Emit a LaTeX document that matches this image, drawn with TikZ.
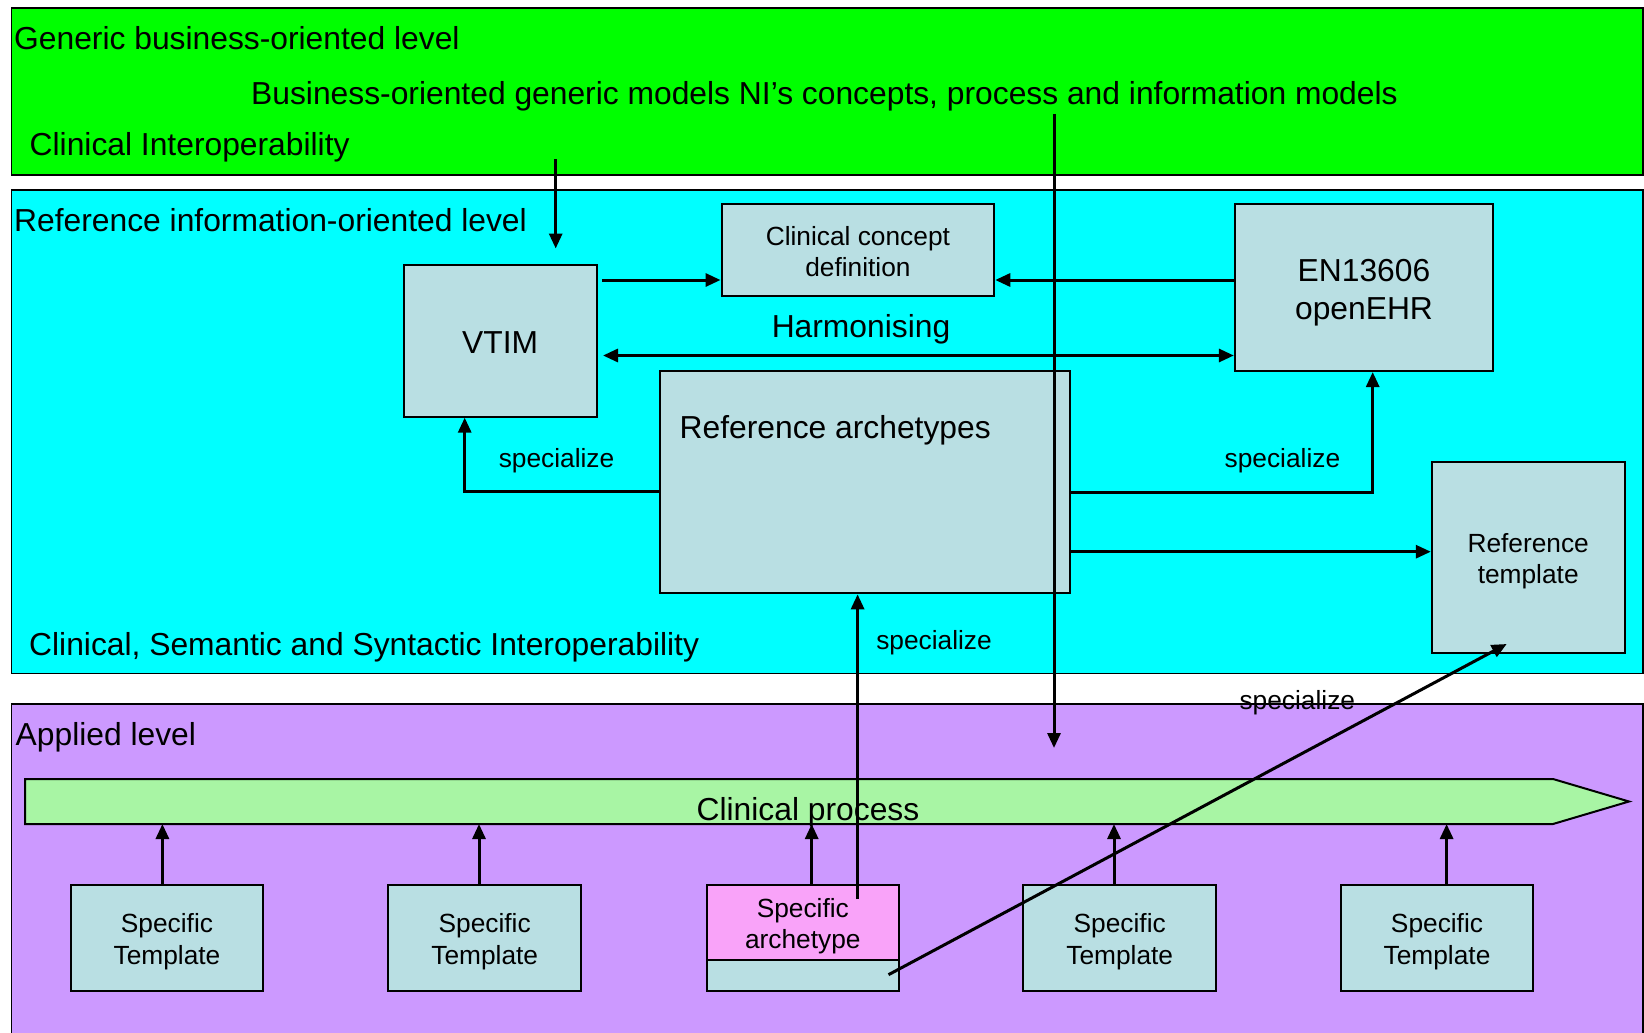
\documentclass[tikz,border=0pt]{standalone}
\usepackage{fontspec}
\setmainfont{Liberation Sans}
\usetikzlibrary{arrows.meta,calc}
\definecolor{bandgreen}{HTML}{00FF00}
\definecolor{bandcyan}{HTML}{00FFFF}
\definecolor{bandpurple}{HTML}{CC99FF}
\definecolor{boxc}{HTML}{B9DFE3}
\definecolor{procc}{HTML}{A8F5A4}
\definecolor{pinkc}{HTML}{F9A3F9}
\newcommand\BigF{\fontsize{31.8}{37.7}\selectfont}
\newcommand\SmallF{\fontsize{26.3}{31.5}\selectfont}
\tikzset{
  band/.style={draw, line width=1.6pt, inner sep=0pt, anchor=north west},
  lvl/.style={font=\BigF, anchor=base west, inner sep=0pt},
  lbl/.style={font=\SmallF, anchor=base, inner sep=0pt},
  box/.style={draw, line width=2pt, fill=boxc, inner sep=0pt},
  btxt/.style={font=\BigF, align=center, inner sep=0pt, yshift=-#1},
  stxt/.style={font=\SmallF, align=center, inner sep=0pt, yshift=-#1},
  arr/.style={line width=3pt, -{Triangle[length=15pt,width=13pt]}},
  dblarr/.style={line width=3pt, {Triangle[length=15pt,width=13pt]}-{Triangle[length=15pt,width=13pt]}},
}
\begin{document}
\begin{tikzpicture}[x=1pt,y=-1pt]
\clip (0,0) rectangle (1644,1033);
\useasboundingbox (0,0) rectangle (1644,1033);
% bands
\node[band, fill=bandgreen, minimum width=1631.5pt, minimum height=166.5pt] (gband) at (10.5,7.5) {};
\node[band, fill=bandcyan, minimum width=1631.5pt, minimum height=483.7pt] (cband) at (10.5,189) {};
\node[band, fill=bandpurple, minimum width=1631.5pt, minimum height=345pt] (pband) at (10.5,703) {};
% level labels
\node[lvl] (t1) at (14,50) {Generic business-oriented level};
\node[lvl] (t2) at (251,104) {Business-oriented generic models NI’s concepts, process and information models};
\node[lvl] (t3) at (29.5,155.5) {Clinical Interoperability};
\node[lvl] (t4) at (14,231.5) {Reference information-oriented level};
\node[lvl] (t5) at (29,655) {Clinical, Semantic and Syntactic Interoperability};
\node[lvl] (t6) at (15.5,745.3) {Applied level};
% reference level boxes
\node[box, minimum width=192.8pt, minimum height=151.7pt, label={[btxt=2pt]center:VTIM}] (vtim) at (500.1,340.8) {};
\node[box, minimum width=272.7pt, minimum height=91.7pt, label={[stxt=1.5pt]center:Clinical concept\\definition}] (ccd) at (857.9,250.2) {};
\node[box, minimum width=258.3pt, minimum height=166.7pt, label={[btxt=5pt]center:EN13606\\openEHR}] (en) at (1364,287.7) {};
\node[box, minimum width=409.4pt, minimum height=222.6pt] (ra) at (865,482) {};
\node[lvl] (ratext) at (679.5,438) {Reference archetypes};
\node[box, minimum width=192.8pt, minimum height=191.6pt, label={[stxt=3.5pt]center:Reference\\template}] (rt) at (1528.2,557.5) {};
\node[lvl, anchor=base] (harm) at (861,337) {Harmonising};
% clinical process
\draw[line width=2pt, fill=procc] (25,779) -- (1553,779) -- (1629,801.5) -- (1553,824) -- (25,824) -- cycle;
\coordinate (cpb) at (25,824);
\node[lvl, anchor=base] (cp) at (808,820) {Clinical process};
% applied level boxes
\node[box, minimum width=192.5pt, minimum height=106.3pt, label={[stxt=4pt]center:Specific\\Template}] (st1) at (167,937.9) {};
\node[box, minimum width=192.5pt, minimum height=106.3pt, label={[stxt=4pt]center:Specific\\Template}] (st2) at (484.7,937.9) {};
\node[box, minimum width=192.5pt, minimum height=106.3pt] (sa) at (802.8,937.9) {};
\node[box, fill=pinkc, minimum width=192.5pt, minimum height=75.3pt, label={[stxt=4pt]center:Specific\\archetype}] (sat) at (802.8,922.4) {};
\node[box, minimum width=192.5pt, minimum height=106.3pt, label={[stxt=4pt]center:Specific\\Template}] (st4) at (1119.7,937.9) {};
\node[box, minimum width=192.5pt, minimum height=106.3pt, label={[stxt=4pt]center:Specific\\Template}] (st5) at (1437,937.9) {};
% specialize labels
\node[lbl] (sp1) at (556.5,467.7) {specialize};
\node[lbl] (sp2) at (1282.4,467.7) {specialize};
\node[lbl] (sp3) at (934,649.3) {specialize};
\node[lbl] (sp4) at (1297.3,709.3) {specialize};
% free-end coordinates
\coordinate (gtop1) at (555.7,159);
\coordinate (vtimin) at (555.7,248.5);
\coordinate (gtop2) at (1054,114);
\coordinate (applin) at (1054,748);
\coordinate (sain) at (857.6,899);
\coordinate (sadiag) at (888.5,974.7);
\coordinate (rttip) at (1506.7,644);
% connectors
\draw[arr] (gtop1) -- (vtimin);
\draw[arr] ([xshift=4.5pt]vtim.east |- 0,280) -- (ccd.west |- 0,280);
\draw[arr] (en.west |- 0,280) -- (ccd.east |- 0,280);
\draw[dblarr] ([xshift=5.5pt]vtim.east |- 0,355.5) -- (en.west |- 0,355.5);
\draw[arr] (ra.west |- 0,491.5) -| ([xshift=-35.4pt]vtim.south);
\draw[arr] (ra.east |- 0,492.5) -| ([xshift=8.7pt]en.south);
\draw[arr] (ra.east |- 0,551.7) -- (rt.west |- 0,551.7);
\draw[arr] (gtop2) -- (applin);
\draw[arr] (sain) -- (sain |- ra.south);
\draw[arr] (sadiag) -- (rttip);
\draw[arr] ([xshift=-4.6pt]st1.north) -- ([xshift=-4.6pt]st1.north |- cpb);
\draw[arr] ([xshift=-5.7pt]st2.north) -- ([xshift=-5.7pt]st2.north |- cpb);
\draw[arr] ([xshift=8.9pt]sat.north) -- ([xshift=8.9pt]sat.north |- cpb);
\draw[arr] ([xshift=-5.7pt]st4.north) -- ([xshift=-5.7pt]st4.north |- cpb);
\draw[arr] ([xshift=9.6pt]st5.north) -- ([xshift=9.6pt]st5.north |- cpb);
\end{tikzpicture}
\end{document}
